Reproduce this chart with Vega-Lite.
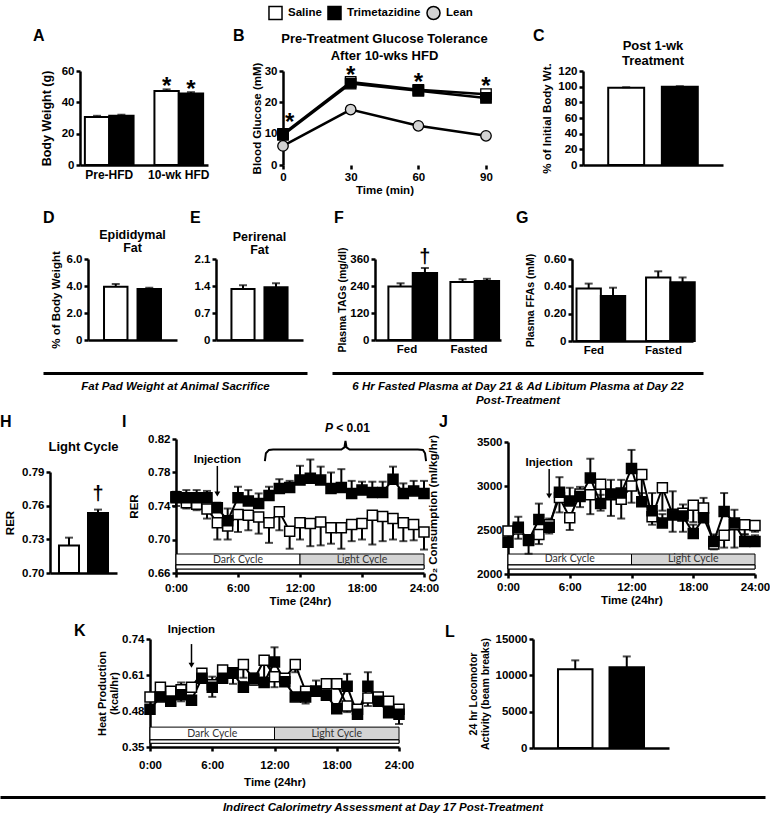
{
"$schema":"https://vega.github.io/schema/vega-lite/v6.json",
"padding":{"left":0,"top":5,"right":0,"bottom":0},
"autosize":{"type":"pad"},
"background":"white",
"data":{"values":[]},
"spacing":0,"bounds":"full",
"resolve":{"scale":{"fill":"independent","shape":"independent","strokeWidth":"independent"}},
"config":{
 "font":"Liberation Sans",
 "view":{"stroke":null},
 "axis":{"domainColor":"black","domainWidth":2.5,"tickColor":"black","tickWidth":2.5,"tickSize":4,"labelFontWeight":"bold","labelFontSize":11.5,"labelColor":"black","labelOverlap":false,"titleFontWeight":"bold","titleFontSize":11.5,"titleColor":"black","grid":false,"labelPadding":2},
 "title":{"fontWeight":"bold","fontSize":13,"color":"black","frame":"group","anchor":"middle"},
 "text":{"color":"black"}
},
"vconcat":[
{"spacing":0,"bounds":"flush","resolve":{"scale":{"fill":"independent","shape":"independent","strokeWidth":"independent"}},
 "hconcat":[
{"width":80,"height":139,"mark":"point","title":{"text":"A","anchor":"start","dx":33,"offset":14,"fontSize":16,"baseline":"alphabetic"}},
{"width":128,"height":94,
 "data":{"values":[
  {"phase":"Pre-HFD","group":"Saline","mean":30.6,"upper":31.4,"sig":""},
  {"phase":"Pre-HFD","group":"Trimetazidine","mean":31.4,"upper":32.1,"sig":""},
  {"phase":"10-wk HFD","group":"Saline","mean":47.2,"upper":48.3,"sig":"*"},
  {"phase":"10-wk HFD","group":"Trimetazidine","mean":45.6,"upper":46.5,"sig":"*"}]},
 "encoding":{
  "x":{"field":"phase","type":"nominal","sort":["Pre-HFD","10-wk HFD"],"scale":{"paddingInner":0.3,"paddingOuter":0.07},"axis":{"title":null,"labelAngle":0,"ticks":false,"labelPadding":4,"labelFontSize":12}},
  "xOffset":{"field":"group","type":"nominal","sort":["Saline","Trimetazidine"]}},
 "layer":[
  {"mark":{"type":"bar","stroke":"black","strokeWidth":2},"encoding":{"y":{"field":"mean","type":"quantitative","scale":{"domain":[0,60],"zero":false,"nice":false,"range":[94,0]},"axis":{"values":[0,20,40,60],"tickCount":10,"labelOverlap":false,"title":"Body Weight (g)","titlePadding":8,"titleFontSize":12.5}},"y2":{"datum":0},"fill":{"field":"group","type":"nominal","scale":{"domain":["Saline","Trimetazidine"],"range":["white","black"]},"legend":null}}},
  {"mark":{"type":"rule","color":"black","strokeWidth":2},"encoding":{"y":{"field":"mean","type":"quantitative"},"y2":{"field":"upper"}}},
  {"mark":{"type":"tick","color":"black","thickness":2,"size":8},"encoding":{"y":{"field":"upper","type":"quantitative"}}},
  {"mark":{"type":"text","fontSize":24,"fontWeight":"bold","baseline":"alphabetic","dy":5},"encoding":{"y":{"field":"upper","type":"quantitative"},"text":{"field":"sig"}}}
 ]},
{"width":75,"height":1,"mark":"point","title":{"text":"B","anchor":"start","dx":25,"offset":14,"fontSize":16,"baseline":"alphabetic"}},
{"width":203,"height":94,
 "title":{"text":["Pre-Treatment Glucose Tolerance","After 10-wks HFD"],"fontSize":13,"lineHeight":17,"offset":-11,"baseline":"alphabetic"},
 "layer":[
  {"data":{"values":[
    {"group":"Lean","time":0,"mean":6.1,"upper":6.1},{"group":"Lean","time":30,"mean":17.7,"upper":17.7},{"group":"Lean","time":60,"mean":12.5,"upper":12.5},{"group":"Lean","time":90,"mean":9.3,"upper":9.3},
    {"group":"Saline","time":0,"mean":9.9,"upper":10.5},{"group":"Saline","time":30,"mean":26.5,"upper":27.6},{"group":"Saline","time":60,"mean":24.0,"upper":25.0},{"group":"Saline","time":90,"mean":22.6,"upper":23.4},
    {"group":"Trimetazidine","time":0,"mean":9.6,"upper":10.3},{"group":"Trimetazidine","time":30,"mean":26.0,"upper":27.2},{"group":"Trimetazidine","time":60,"mean":23.7,"upper":24.8},{"group":"Trimetazidine","time":90,"mean":21.4,"upper":22.3}]},
   "layer":[
    {"mark":{"type":"line","color":"black"},"encoding":{
      "x":{"field":"time","type":"quantitative","scale":{"domain":[0,90],"nice":false},"axis":{"values":[0,30,60,90],"tickCount":10,"title":"Time (min)","domain":false,"labelFlush":false,"labelOverlap":false,"titlePadding":2}},
      "y":{"field":"mean","type":"quantitative","scale":{"domain":[0,30],"zero":false,"nice":false,"range":[94,0]},"axis":{"values":[0,10,20,30],"tickCount":10,"labelOverlap":false,"title":"Blood Glucose (mM)","titlePadding":2}},
      "detail":{"field":"group","type":"nominal"},
      "strokeWidth":{"field":"group","type":"nominal","scale":{"domain":["Saline","Trimetazidine","Lean"],"range":[2.5,2.5,1.5]},"legend":null}}},
    {"mark":{"type":"rule","color":"black","strokeWidth":2},"encoding":{"x":{"field":"time","type":"quantitative"},"y":{"field":"mean","type":"quantitative"},"y2":{"field":"upper"}}},
    {"mark":{"type":"tick","orient":"horizontal","color":"black","thickness":2,"size":8},"encoding":{"x":{"field":"time","type":"quantitative"},"y":{"field":"upper","type":"quantitative"}}},
    {"mark":{"type":"point","filled":true,"size":110,"stroke":"black","strokeWidth":1.3,"opacity":1},"encoding":{"x":{"field":"time","type":"quantitative"},"y":{"field":"mean","type":"quantitative"},"shape":{"field":"group","type":"nominal","scale":{"domain":["Saline","Trimetazidine","Lean"],"range":["square","square","circle"]},"legend":null},"fill":{"field":"group","type":"nominal","scale":{"domain":["Saline","Trimetazidine","Lean"],"range":["white","black","#d3d3d3"]},"legend":null}}}
   ]},
  {"data":{"values":[{"time":3,"pos":15.2,"sig":"*"},{"time":30,"pos":30.3,"sig":"*"},{"time":60,"pos":28.0,"sig":"*"},{"time":90,"pos":26.8,"sig":"*"}]},
   "mark":{"type":"text","fontSize":24,"fontWeight":"bold","baseline":"alphabetic","dy":13},
   "encoding":{"x":{"field":"time","type":"quantitative"},"y":{"field":"pos","type":"quantitative"},"text":{"field":"sig"}}}
 ]},
{"width":97,"height":1,"mark":"point","title":{"text":"C","anchor":"start","dx":47,"offset":14,"fontSize":16,"baseline":"alphabetic"}},
{"width":140,"height":94,
 "title":{"text":["Post 1-wk","Treatment"],"fontSize":13,"lineHeight":15,"offset":-15,"baseline":"alphabetic"},
 "data":{"values":[{"group":"Saline","mean":98.5,"upper":99.3},{"group":"Trimetazidine","mean":100.0,"upper":100.6}]},
 "encoding":{"x":{"field":"group","type":"nominal","sort":["Saline","Trimetazidine"],"scale":{"paddingInner":0.33,"paddingOuter":0.47},"axis":{"labels":false,"ticks":false,"title":null}}},
 "layer":[
  {"mark":{"type":"bar","stroke":"black","strokeWidth":2},"encoding":{"y":{"field":"mean","type":"quantitative","scale":{"domain":[0,120],"zero":false,"nice":false,"range":[94,0]},"axis":{"values":[0,20,40,60,80,100,120],"tickCount":10,"labelOverlap":false,"title":"% of Initial Body Wt.","titlePadding":5}},"y2":{"datum":0},"fill":{"field":"group","type":"nominal","scale":{"domain":["Saline","Trimetazidine"],"range":["white","black"]},"legend":null}}},
  {"mark":{"type":"rule","color":"black","strokeWidth":2},"encoding":{"y":{"field":"mean","type":"quantitative"},"y2":{"field":"upper"}}},
  {"mark":{"type":"tick","color":"black","thickness":2,"size":8},"encoding":{"y":{"field":"upper","type":"quantitative"}}}
 ]},
{"width":1,"height":1,"data":{"values":[{"group":"Saline"},{"group":"Trimetazidine"},{"group":"Lean"}]},"mark":{"type":"point","filled":true,"opacity":0,"stroke":"black","strokeWidth":1.5},"encoding":{
  "fill":{"field":"group","type":"nominal","scale":{"domain":["Saline","Trimetazidine","Lean"],"range":["white","black","#d3d3d3"]},"legend":{"orient":"none","legendX":-455,"legendY":-66,"direction":"horizontal","title":null,"symbolSize":170,"symbolStrokeColor":"black","symbolFillColor":"white","symbolStrokeWidth":1.5,"symbolOpacity":1,"labelFontSize":11.5,"labelFontWeight":"bold","labelColor":"black","columnPadding":2,"labelOffset":5}},
  "shape":{"field":"group","type":"nominal","scale":{"domain":["Saline","Trimetazidine","Lean"],"range":["square","square","circle"]},"legend":{"orient":"none","legendX":-455,"legendY":-66,"direction":"horizontal","title":null,"symbolSize":170,"symbolStrokeColor":"black","symbolFillColor":"white","symbolStrokeWidth":1.5,"symbolOpacity":1,"labelFontSize":11.5,"labelFontWeight":"bold","labelColor":"black","columnPadding":2,"labelOffset":5}}}}
 ]},
{"spacing":0,"bounds":"flush","resolve":{"scale":{"fill":"independent","shape":"independent","strokeWidth":"independent"}},
 "hconcat":[
{"width":88,"height":110,"mark":"point","title":{"text":"D","anchor":"start","dx":43,"offset":20,"fontSize":16,"baseline":"alphabetic"}},
{"width":89,"height":81,
 "title":{"text":["Epididymal","Fat"],"fontSize":12.5,"lineHeight":13,"offset":-13.5,"baseline":"alphabetic"},
 "data":{"values":[{"group":"Saline","mean":3.95,"upper":4.15},{"group":"Trimetazidine","mean":3.78,"upper":3.87}]},
 "encoding":{"x":{"field":"group","type":"nominal","sort":["Saline","Trimetazidine"],"scale":{"paddingInner":0.3,"paddingOuter":0.478},"axis":{"labels":false,"ticks":false,"title":null}}},
 "layer":[
  {"mark":{"type":"bar","stroke":"black","strokeWidth":2},"encoding":{"y":{"field":"mean","type":"quantitative","scale":{"domain":[0,6],"zero":false,"nice":false,"range":[81,0]},"axis":{"values":[0,2,4,6],"tickCount":10,"labelOverlap":false,"labelExpr":"datum.value == 0 ? '0' : format(datum.value, '.1f')","title":"% of Body Weight","titlePadding":5}},"y2":{"datum":0},"fill":{"field":"group","type":"nominal","scale":{"domain":["Saline","Trimetazidine"],"range":["white","black"]},"legend":null}}},
  {"mark":{"type":"rule","color":"black","strokeWidth":2},"encoding":{"y":{"field":"mean","type":"quantitative"},"y2":{"field":"upper"}}},
  {"mark":{"type":"tick","color":"black","thickness":2,"size":8},"encoding":{"y":{"field":"upper","type":"quantitative"}}}
 ]},
{"width":39,"height":1,"mark":"point","title":{"text":"E","anchor":"start","dx":13,"offset":20,"fontSize":16,"baseline":"alphabetic"}},
{"width":87,"height":81,
 "title":{"text":["Perirenal","Fat"],"fontSize":12.5,"lineHeight":13,"offset":-13.5,"baseline":"alphabetic"},
 "data":{"values":[{"group":"Saline","mean":1.32,"upper":1.42},{"group":"Trimetazidine","mean":1.37,"upper":1.47}]},
 "encoding":{"x":{"field":"group","type":"nominal","sort":["Saline","Trimetazidine"],"scale":{"paddingInner":0.3,"paddingOuter":0.468},"axis":{"labels":false,"ticks":false,"title":null}}},
 "layer":[
  {"mark":{"type":"bar","stroke":"black","strokeWidth":2},"encoding":{"y":{"field":"mean","type":"quantitative","scale":{"domain":[0,2.1],"zero":false,"nice":false,"range":[81,0]},"axis":{"values":[0,0.7,1.4,2.1],"tickCount":10,"labelOverlap":false,"labelExpr":"datum.value == 0 ? '0' : format(datum.value, '.1f')","title":null}},"y2":{"datum":0},"fill":{"field":"group","type":"nominal","scale":{"domain":["Saline","Trimetazidine"],"range":["white","black"]},"legend":null}}},
  {"mark":{"type":"rule","color":"black","strokeWidth":2},"encoding":{"y":{"field":"mean","type":"quantitative"},"y2":{"field":"upper"}}},
  {"mark":{"type":"tick","color":"black","thickness":2,"size":8},"encoding":{"y":{"field":"upper","type":"quantitative"}}}
 ]},
{"width":72,"height":1,"mark":"point","title":{"text":"F","anchor":"start","dx":31,"offset":20,"fontSize":16,"baseline":"alphabetic"}},
{"width":126,"height":81,
 "data":{"values":[
  {"state":"Fed","group":"Saline","mean":238,"upper":252,"sig":""},
  {"state":"Fed","group":"Trimetazidine","mean":298,"upper":320,"sig":"†"},
  {"state":"Fasted","group":"Saline","mean":258,"upper":270,"sig":""},
  {"state":"Fasted","group":"Trimetazidine","mean":262,"upper":272,"sig":""}]},
 "encoding":{
  "x":{"field":"state","type":"nominal","sort":["Fed","Fasted"],"scale":{"paddingInner":0.4,"paddingOuter":0.216},"axis":{"title":null,"labelAngle":0,"ticks":false,"labelPadding":3}},
  "xOffset":{"field":"group","type":"nominal","sort":["Saline","Trimetazidine"]}},
 "layer":[
  {"mark":{"type":"bar","stroke":"black","strokeWidth":2},"encoding":{"y":{"field":"mean","type":"quantitative","scale":{"domain":[0,360],"zero":false,"nice":false,"range":[81,0]},"axis":{"values":[0,120,240,360],"tickCount":10,"labelOverlap":false,"title":"Plasma TAGs (mg/dl)","titleFontSize":10.5,"titlePadding":2}},"y2":{"datum":0},"fill":{"field":"group","type":"nominal","scale":{"domain":["Saline","Trimetazidine"],"range":["white","black"]},"legend":null}}},
  {"mark":{"type":"rule","color":"black","strokeWidth":2},"encoding":{"y":{"field":"mean","type":"quantitative"},"y2":{"field":"upper"}}},
  {"mark":{"type":"tick","color":"black","thickness":2,"size":8},"encoding":{"y":{"field":"upper","type":"quantitative"}}},
  {"mark":{"type":"text","fontSize":20,"fontWeight":"bold","baseline":"bottom","dy":-1},"encoding":{"y":{"field":"upper","type":"quantitative"},"text":{"field":"sig"}}}
 ]},
{"width":71,"height":1,"mark":"point","title":{"text":"G","anchor":"start","dx":15,"offset":20,"fontSize":16,"baseline":"alphabetic"}},
{"width":121,"height":82,
 "data":{"values":[
  {"state":"Fed","group":"Saline","mean":0.385,"upper":0.42},
  {"state":"Fed","group":"Trimetazidine","mean":0.33,"upper":0.39},
  {"state":"Fasted","group":"Saline","mean":0.465,"upper":0.51},
  {"state":"Fasted","group":"Trimetazidine","mean":0.43,"upper":0.465}]},
 "encoding":{
  "x":{"field":"state","type":"nominal","sort":["Fed","Fasted"],"scale":{"paddingInner":0.5,"paddingOuter":0.12,"align":0.27},"axis":{"title":null,"labelAngle":0,"ticks":false,"labelPadding":3}},
  "xOffset":{"field":"group","type":"nominal","sort":["Saline","Trimetazidine"]}},
 "layer":[
  {"mark":{"type":"bar","stroke":"black","strokeWidth":2},"encoding":{"y":{"field":"mean","type":"quantitative","scale":{"domain":[0,0.6],"zero":false,"nice":false,"range":[82,0]},"axis":{"values":[0,0.2,0.4,0.6],"tickCount":10,"labelOverlap":false,"labelExpr":"datum.value == 0 ? '0' : format(datum.value, '.2f')","title":"Plasma FFAs (mM)","titleFontSize":10.5,"titlePadding":8}},"y2":{"datum":0},"fill":{"field":"group","type":"nominal","scale":{"domain":["Saline","Trimetazidine"],"range":["white","black"]},"legend":null}}},
  {"mark":{"type":"rule","color":"black","strokeWidth":2},"encoding":{"y":{"field":"mean","type":"quantitative"},"y2":{"field":"upper"}}},
  {"mark":{"type":"tick","color":"black","thickness":2,"size":8},"encoding":{"y":{"field":"upper","type":"quantitative"}}}
 ]}
 ]},
{"spacing":0,"bounds":"flush",
 "hconcat":[
{"width":43,"height":42,"mark":"point"},
{"width":264,"height":1,"data":{"values":[{"v":0}]},"mark":{"type":"point","opacity":0},"encoding":{"x":{"field":"v","type":"quantitative","axis":{"title":"Fat Pad Weight at Animal Sacrifice","ticks":false,"labels":false,"domainWidth":3,"titleFontStyle":"italic","titleFontSize":11.5,"titlePadding":7.5}}}},
{"width":25,"height":1,"mark":"point"},
{"width":371,"height":1,"data":{"values":[{"v":0}]},"mark":{"type":"point","opacity":0},"encoding":{"x":{"field":"v","type":"quantitative","axis":{"title":["6 Hr Fasted Plasma at Day 21 & Ad Libitum Plasma at Day 22","Post-Treatment"],"ticks":false,"labels":false,"domainWidth":3,"titleFontStyle":"italic","titleFontSize":11.5,"titleLineHeight":14,"titlePadding":7.5}}}}
 ]},
{"spacing":0,"bounds":"flush","resolve":{"scale":{"fill":"independent","shape":"independent","strokeWidth":"independent"}},
 "hconcat":[
{"width":50,"height":184,"mark":"point","title":{"text":"H","anchor":"start","dx":0,"offset":-4,"fontSize":16,"baseline":"alphabetic"}},
{"width":67,"height":134,
 "title":{"text":"Light Cycle","fontSize":13,"offset":-25,"baseline":"alphabetic"},
 "data":{"values":[{"group":"Saline","mean":0.7245,"upper":0.7315,"sig":""},{"group":"Trimetazidine","mean":0.7535,"upper":0.7565,"sig":"†"}]},
 "encoding":{"x":{"field":"group","type":"nominal","sort":["Saline","Trimetazidine"],"scale":{"paddingInner":0.31,"paddingOuter":0.31},"axis":{"labels":false,"ticks":false,"title":null}}},
 "layer":[
  {"mark":{"type":"bar","stroke":"black","strokeWidth":2},"encoding":{"y":{"field":"mean","type":"quantitative","scale":{"domain":[0.7,0.79],"zero":false,"nice":false,"range":[134,33]},"axis":{"values":[0.7,0.73,0.76,0.79],"tickCount":10,"labelOverlap":false,"format":".2f","title":"RER","titlePadding":6}},"y2":{"datum":0.7},"fill":{"field":"group","type":"nominal","scale":{"domain":["Saline","Trimetazidine"],"range":["white","black"]},"legend":null}}},
  {"mark":{"type":"rule","color":"black","strokeWidth":2},"encoding":{"y":{"field":"mean","type":"quantitative"},"y2":{"field":"upper"}}},
  {"mark":{"type":"tick","color":"black","thickness":2,"size":8},"encoding":{"y":{"field":"upper","type":"quantitative"}}},
  {"mark":{"type":"text","fontSize":20,"fontWeight":"bold","baseline":"bottom","dy":-6},"encoding":{"y":{"field":"upper","type":"quantitative"},"text":{"field":"sig"}}}
 ]},
{"width":59,"height":1,"mark":"point","title":{"text":"I","anchor":"start","dx":5,"offset":-4,"fontSize":16,"baseline":"alphabetic"}},
{"width":248,"height":134,
 "layer":[
  {"data":{"values":[{"cycle":"Dark Cycle","start":0,"end":12,"mid":6},{"cycle":"Light Cycle","start":12,"end":24,"mid":18}]},
   "layer":[
    {"mark":{"type":"rect","stroke":"black","strokeWidth":1},"encoding":{
      "x":{"field":"start","type":"quantitative","scale":{"domain":[0,24],"nice":false},"axis":{"values":[0,6,12,18,24],"tickCount":10,"labelExpr":"datum.value + ':00'","title":"Time (24hr)","labelFlush":false,"labelOverlap":false,"labelPadding":5,"titlePadding":2}},
      "x2":{"field":"end"},
      "y":{"datum":0.6696,"type":"quantitative","scale":{"domain":[0.66,0.82],"zero":false,"nice":false,"range":[134,0]},"axis":{"values":[0.66,0.7,0.74,0.78,0.82],"tickCount":10,"labelOverlap":false,"format":".2f","title":"RER","titlePadding":8}},
      "y2":{"datum":0.6827},
      "fill":{"field":"cycle","type":"nominal","scale":{"domain":["Dark Cycle","Light Cycle","Saline","Trimetazidine"],"range":["white","#d4d4d4","white","black"]},"legend":null}}},
    {"mark":{"type":"rect","stroke":"black","strokeWidth":1,"fill":"white"},"encoding":{"x":{"datum":0,"type":"quantitative"},"x2":{"datum":24},"y":{"datum":0.6648,"type":"quantitative"},"y2":{"datum":0.6696}}},
    {"mark":{"type":"text","font":"Lato","fontSize":10.5,"color":"#333"},"encoding":{"x":{"field":"mid","type":"quantitative"},"y":{"datum":0.676,"type":"quantitative"},"text":{"field":"cycle"}}}
   ]},
  {"data":{"values":[
    {"group":"Saline","hour":0,"mean":0.751,"bar":0.740},{"group":"Saline","hour":1,"mean":0.744,"bar":0.737},{"group":"Saline","hour":2,"mean":0.742,"bar":0.735},{"group":"Saline","hour":3,"mean":0.7365,"bar":0.725},{"group":"Saline","hour":4,"mean":0.720,"bar":0.700},{"group":"Saline","hour":5,"mean":0.716,"bar":0.700},{"group":"Saline","hour":6,"mean":0.730,"bar":0.709},{"group":"Saline","hour":7,"mean":0.729,"bar":0.711},{"group":"Saline","hour":8,"mean":0.727,"bar":0.707},{"group":"Saline","hour":9,"mean":0.720,"bar":0.696},{"group":"Saline","hour":10,"mean":0.733,"bar":0.711},{"group":"Saline","hour":11,"mean":0.710,"bar":0.689},{"group":"Saline","hour":12,"mean":0.720,"bar":0.700},{"group":"Saline","hour":13,"mean":0.719,"bar":0.692},{"group":"Saline","hour":14,"mean":0.721,"bar":0.693},{"group":"Saline","hour":15,"mean":0.714,"bar":0.695},{"group":"Saline","hour":16,"mean":0.714,"bar":0.689},{"group":"Saline","hour":17,"mean":0.718,"bar":0.698},{"group":"Saline","hour":18,"mean":0.719,"bar":0.700},{"group":"Saline","hour":19,"mean":0.729,"bar":0.694},{"group":"Saline","hour":20,"mean":0.7275,"bar":0.698},{"group":"Saline","hour":21,"mean":0.725,"bar":0.700},{"group":"Saline","hour":22,"mean":0.720,"bar":0.698},{"group":"Saline","hour":23,"mean":0.718,"bar":0.699},{"group":"Saline","hour":24,"mean":0.709,"bar":0.688},
    {"group":"Trimetazidine","hour":0,"mean":0.750,"bar":0.757},{"group":"Trimetazidine","hour":1,"mean":0.750,"bar":0.759},{"group":"Trimetazidine","hour":2,"mean":0.750,"bar":0.759},{"group":"Trimetazidine","hour":3,"mean":0.750,"bar":0.758},{"group":"Trimetazidine","hour":4,"mean":0.738,"bar":0.744},{"group":"Trimetazidine","hour":5,"mean":0.7225,"bar":0.737},{"group":"Trimetazidine","hour":6,"mean":0.750,"bar":0.763},{"group":"Trimetazidine","hour":7,"mean":0.746,"bar":0.759},{"group":"Trimetazidine","hour":8,"mean":0.743,"bar":0.755},{"group":"Trimetazidine","hour":9,"mean":0.7525,"bar":0.763},{"group":"Trimetazidine","hour":10,"mean":0.761,"bar":0.772},{"group":"Trimetazidine","hour":11,"mean":0.762,"bar":0.770},{"group":"Trimetazidine","hour":12,"mean":0.771,"bar":0.788},{"group":"Trimetazidine","hour":13,"mean":0.773,"bar":0.7955},{"group":"Trimetazidine","hour":14,"mean":0.771,"bar":0.787},{"group":"Trimetazidine","hour":15,"mean":0.761,"bar":0.780},{"group":"Trimetazidine","hour":16,"mean":0.762,"bar":0.784},{"group":"Trimetazidine","hour":17,"mean":0.755,"bar":0.770},{"group":"Trimetazidine","hour":18,"mean":0.759,"bar":0.769},{"group":"Trimetazidine","hour":19,"mean":0.756,"bar":0.769},{"group":"Trimetazidine","hour":20,"mean":0.756,"bar":0.769},{"group":"Trimetazidine","hour":21,"mean":0.772,"bar":0.787},{"group":"Trimetazidine","hour":22,"mean":0.755,"bar":0.767},{"group":"Trimetazidine","hour":23,"mean":0.758,"bar":0.770},{"group":"Trimetazidine","hour":24,"mean":0.755,"bar":0.770}]},
   "layer":[
    {"mark":{"type":"line","color":"black","strokeWidth":2},"encoding":{"x":{"field":"hour","type":"quantitative"},"y":{"field":"mean","type":"quantitative"},"detail":{"field":"group","type":"nominal"}}},
    {"mark":{"type":"rule","color":"black","strokeWidth":2},"encoding":{"x":{"field":"hour","type":"quantitative"},"y":{"field":"mean","type":"quantitative"},"y2":{"field":"bar"}}},
    {"mark":{"type":"tick","orient":"horizontal","color":"black","thickness":2,"size":8},"encoding":{"x":{"field":"hour","type":"quantitative"},"y":{"field":"bar","type":"quantitative"}}},
    {"mark":{"type":"point","shape":"square","size":100,"filled":true,"stroke":"black","strokeWidth":1.5,"opacity":1},"encoding":{"x":{"field":"hour","type":"quantitative"},"y":{"field":"mean","type":"quantitative"},"fill":{"field":"group","type":"nominal","scale":{"domain":["Dark Cycle","Light Cycle","Saline","Trimetazidine"],"range":["white","#d4d4d4","white","black"]},"legend":null}}}
   ]},
  {"data":{"values":[{"hour":4,"label":"Injection"}]},
   "layer":[
    {"mark":{"type":"text","fontSize":11.5,"fontWeight":"bold","baseline":"alphabetic"},"encoding":{"x":{"field":"hour","type":"quantitative"},"y":{"datum":0.7913,"type":"quantitative"},"text":{"field":"label"}}},
    {"mark":{"type":"rule","color":"black","strokeWidth":1.5},"encoding":{"x":{"field":"hour","type":"quantitative"},"y":{"datum":0.7878,"type":"quantitative"},"y2":{"datum":0.755}}},
    {"mark":{"type":"point","shape":"triangle-down","filled":true,"color":"black","size":35,"opacity":1},"encoding":{"x":{"field":"hour","type":"quantitative"},"y":{"datum":0.7543,"type":"quantitative"}}}
   ]},
  {"data":{"values":[{"hour":8.6,"y":0.7937},{"hour":8.7,"y":0.803},{"hour":9.0,"y":0.807},{"hour":9.4,"y":0.8075},{"hour":16.0,"y":0.8075},{"hour":16.3,"y":0.810},{"hour":16.4,"y":0.8176},{"hour":16.5,"y":0.810},{"hour":16.8,"y":0.8075},{"hour":23.4,"y":0.8075},{"hour":23.9,"y":0.807},{"hour":24.1,"y":0.803},{"hour":24.2,"y":0.7937}]},
   "mark":{"type":"line","color":"black","strokeWidth":2},"encoding":{"x":{"field":"hour","type":"quantitative"},"y":{"field":"y","type":"quantitative"}}},
  {"data":{"values":[{"hour":15.2,"t":"P"}]},"mark":{"type":"text","fontSize":12,"fontWeight":"bold","fontStyle":"italic","align":"right","baseline":"alphabetic"},"encoding":{"x":{"field":"hour","type":"quantitative"},"y":{"datum":0.8284,"type":"quantitative"},"text":{"field":"t"}}},
  {"data":{"values":[{"hour":15.5,"t":"< 0.01"}]},"mark":{"type":"text","fontSize":12,"fontWeight":"bold","align":"left","baseline":"alphabetic"},"encoding":{"x":{"field":"hour","type":"quantitative"},"y":{"datum":0.8284,"type":"quantitative"},"text":{"field":"t"}}}
 ]},
{"width":84,"height":1,"mark":"point","title":{"text":"J","anchor":"start","dx":15,"offset":-4,"fontSize":16,"baseline":"alphabetic"}},
{"width":247,"height":135,
 "layer":[
  {"data":{"values":[{"cycle":"Dark Cycle","start":0,"end":12,"mid":6},{"cycle":"Light Cycle","start":12,"end":24,"mid":18}]},
   "layer":[
    {"mark":{"type":"rect","stroke":"black","strokeWidth":1},"encoding":{
      "x":{"field":"start","type":"quantitative","scale":{"domain":[0,24],"nice":false},"axis":{"values":[0,6,12,18,24],"tickCount":10,"labelExpr":"datum.value + ':00'","title":"Time (24hr)","labelFlush":false,"labelOverlap":false,"labelPadding":3,"titlePadding":2}},
      "x2":{"field":"end"},
      "y":{"datum":2102,"type":"quantitative","scale":{"domain":[2000,3500],"zero":false,"nice":false,"range":[135,3]},"axis":{"values":[2000,2500,3000,3500],"tickCount":10,"labelOverlap":false,"format":"d","title":"O₂ Consumption (ml/kg/hr)","titlePadding":38}},
      "y2":{"datum":2227},
      "fill":{"field":"cycle","type":"nominal","scale":{"domain":["Dark Cycle","Light Cycle","Saline","Trimetazidine"],"range":["white","#d4d4d4","white","black"]},"legend":null}}},
    {"mark":{"type":"rect","stroke":"black","strokeWidth":1,"fill":"white"},"encoding":{"x":{"datum":0,"type":"quantitative"},"x2":{"datum":24},"y":{"datum":2057,"type":"quantitative"},"y2":{"datum":2102}}},
    {"mark":{"type":"text","font":"Lato","fontSize":10.5,"color":"#333"},"encoding":{"x":{"field":"mid","type":"quantitative"},"y":{"datum":2165,"type":"quantitative"},"text":{"field":"cycle"}}}
   ]},
  {"data":{"values":[
    {"group":"Saline","hour":0,"mean":2490,"bar":2440},{"group":"Saline","hour":1,"mean":2510,"bar":2400},{"group":"Saline","hour":2,"mean":2390,"bar":2230},{"group":"Saline","hour":3,"mean":2450,"bar":2340},{"group":"Saline","hour":4,"mean":2560,"bar":2460},{"group":"Saline","hour":5,"mean":2870,"bar":2700},{"group":"Saline","hour":6,"mean":2640,"bar":2500},{"group":"Saline","hour":7,"mean":2910,"bar":2760},{"group":"Saline","hour":8,"mean":2900,"bar":2680},{"group":"Saline","hour":9,"mean":3020,"bar":2720},{"group":"Saline","hour":10,"mean":2900,"bar":2660},{"group":"Saline","hour":11,"mean":2850,"bar":2630},{"group":"Saline","hour":12,"mean":3000,"bar":2810},{"group":"Saline","hour":13,"mean":3130,"bar":2800},{"group":"Saline","hour":14,"mean":2650,"bar":2560},{"group":"Saline","hour":15,"mean":2980,"bar":2720},{"group":"Saline","hour":16,"mean":2680,"bar":2480},{"group":"Saline","hour":17,"mean":2690,"bar":2480},{"group":"Saline","hour":18,"mean":2780,"bar":2590},{"group":"Saline","hour":19,"mean":2750,"bar":2600},{"group":"Saline","hour":20,"mean":2340,"bar":2280},{"group":"Saline","hour":21,"mean":2440,"bar":2300},{"group":"Saline","hour":22,"mean":2560,"bar":2300},{"group":"Saline","hour":23,"mean":2560,"bar":2450},{"group":"Saline","hour":24,"mean":2550,"bar":2480},
    {"group":"Trimetazidine","hour":0,"mean":2360,"bar":2400},{"group":"Trimetazidine","hour":1,"mean":2530,"bar":2650},{"group":"Trimetazidine","hour":2,"mean":2380,"bar":2420},{"group":"Trimetazidine","hour":3,"mean":2620,"bar":2800},{"group":"Trimetazidine","hour":4,"mean":2530,"bar":2630},{"group":"Trimetazidine","hour":5,"mean":2930,"bar":3100},{"group":"Trimetazidine","hour":6,"mean":2830,"bar":2980},{"group":"Trimetazidine","hour":7,"mean":2880,"bar":2990},{"group":"Trimetazidine","hour":8,"mean":3090,"bar":3310},{"group":"Trimetazidine","hour":9,"mean":2800,"bar":2900},{"group":"Trimetazidine","hour":10,"mean":2910,"bar":3070},{"group":"Trimetazidine","hour":11,"mean":2920,"bar":3070},{"group":"Trimetazidine","hour":12,"mean":3200,"bar":3410},{"group":"Trimetazidine","hour":13,"mean":2820,"bar":2920},{"group":"Trimetazidine","hour":14,"mean":2720,"bar":2920},{"group":"Trimetazidine","hour":15,"mean":2580,"bar":2680},{"group":"Trimetazidine","hour":16,"mean":2670,"bar":2940},{"group":"Trimetazidine","hour":17,"mean":2660,"bar":2790},{"group":"Trimetazidine","hour":18,"mean":2460,"bar":2560},{"group":"Trimetazidine","hour":19,"mean":2640,"bar":2865},{"group":"Trimetazidine","hour":20,"mean":2370,"bar":2450},{"group":"Trimetazidine","hour":21,"mean":2710,"bar":2920},{"group":"Trimetazidine","hour":22,"mean":2580,"bar":2730},{"group":"Trimetazidine","hour":23,"mean":2370,"bar":2450},{"group":"Trimetazidine","hour":24,"mean":2370,"bar":2440}]},
   "layer":[
    {"mark":{"type":"line","color":"black","strokeWidth":2},"encoding":{"x":{"field":"hour","type":"quantitative"},"y":{"field":"mean","type":"quantitative"},"detail":{"field":"group","type":"nominal"}}},
    {"mark":{"type":"rule","color":"black","strokeWidth":2},"encoding":{"x":{"field":"hour","type":"quantitative"},"y":{"field":"mean","type":"quantitative"},"y2":{"field":"bar"}}},
    {"mark":{"type":"tick","orient":"horizontal","color":"black","thickness":2,"size":8},"encoding":{"x":{"field":"hour","type":"quantitative"},"y":{"field":"bar","type":"quantitative"}}},
    {"mark":{"type":"point","shape":"square","size":100,"filled":true,"stroke":"black","strokeWidth":1.5,"opacity":1},"encoding":{"x":{"field":"hour","type":"quantitative"},"y":{"field":"mean","type":"quantitative"},"fill":{"field":"group","type":"nominal","scale":{"domain":["Dark Cycle","Light Cycle","Saline","Trimetazidine"],"range":["white","#d4d4d4","white","black"]},"legend":null}}}
   ]},
  {"data":{"values":[{"hour":4,"label":"Injection"}]},
   "layer":[
    {"mark":{"type":"text","fontSize":11.5,"fontWeight":"bold","baseline":"alphabetic"},"encoding":{"x":{"field":"hour","type":"quantitative"},"y":{"datum":3227,"type":"quantitative"},"text":{"field":"label"}}},
    {"mark":{"type":"rule","color":"black","strokeWidth":1.5},"encoding":{"x":{"field":"hour","type":"quantitative"},"y":{"datum":3193,"type":"quantitative"},"y2":{"datum":2890}}},
    {"mark":{"type":"point","shape":"triangle-down","filled":true,"color":"black","size":35,"opacity":1},"encoding":{"x":{"field":"hour","type":"quantitative"},"y":{"datum":2886,"type":"quantitative"}}}
   ]}
 ]}
 ]},
{"spacing":0,"bounds":"flush","resolve":{"scale":{"fill":"independent","shape":"independent","strokeWidth":"independent"}},
 "hconcat":[
{"width":150,"height":154,"mark":"point","title":{"text":"K","anchor":"start","dx":74,"offset":-13,"fontSize":16,"baseline":"alphabetic"}},
{"width":249,"height":108,
 "layer":[
  {"data":{"values":[{"cycle":"Dark Cycle","start":0,"end":12,"mid":6},{"cycle":"Light Cycle","start":12,"end":24,"mid":18}]},
   "layer":[
    {"mark":{"type":"rect","stroke":"black","strokeWidth":1},"encoding":{
      "x":{"field":"start","type":"quantitative","scale":{"domain":[0,24],"nice":false},"axis":{"values":[0,6,12,18,24],"tickCount":10,"labelExpr":"datum.value + ':00'","title":"Time (24hr)","labelFlush":false,"labelOverlap":false,"labelPadding":8,"titlePadding":6}},
      "x2":{"field":"end"},
      "y":{"datum":0.3755,"type":"quantitative","scale":{"domain":[0.35,0.74],"zero":false,"nice":false,"range":[108,0]},"axis":{"values":[0.35,0.48,0.61,0.74],"tickCount":10,"labelOverlap":false,"format":".2f","title":["Heat Production","(kcal/hr)"],"titleFontSize":11,"titleLineHeight":12,"titlePadding":2}},
      "y2":{"datum":0.4218},
      "fill":{"field":"cycle","type":"nominal","scale":{"domain":["Dark Cycle","Light Cycle","Saline","Trimetazidine"],"range":["white","#d4d4d4","white","black"]},"legend":null}}},
    {"mark":{"type":"rect","stroke":"black","strokeWidth":1,"fill":"white"},"encoding":{"x":{"datum":0,"type":"quantitative"},"x2":{"datum":24},"y":{"datum":0.3635,"type":"quantitative"},"y2":{"datum":0.3755}}},
    {"mark":{"type":"text","font":"Lato","fontSize":10.5,"color":"#333"},"encoding":{"x":{"field":"mid","type":"quantitative"},"y":{"datum":0.3985,"type":"quantitative"},"text":{"field":"cycle"}}}
   ]},
  {"data":{"values":[
    {"group":"Saline","hour":0,"mean":0.531,"bar":0.52},{"group":"Saline","hour":1,"mean":0.566,"bar":0.55},{"group":"Saline","hour":2,"mean":0.551,"bar":0.54},{"group":"Saline","hour":3,"mean":0.557,"bar":0.515},{"group":"Saline","hour":4,"mean":0.566,"bar":0.555},{"group":"Saline","hour":5,"mean":0.616,"bar":0.60},{"group":"Saline","hour":6,"mean":0.575,"bar":0.531},{"group":"Saline","hour":7,"mean":0.628,"bar":0.61},{"group":"Saline","hour":8,"mean":0.618,"bar":0.578},{"group":"Saline","hour":9,"mean":0.648,"bar":0.60},{"group":"Saline","hour":10,"mean":0.592,"bar":0.575},{"group":"Saline","hour":11,"mean":0.663,"bar":0.60},{"group":"Saline","hour":12,"mean":0.604,"bar":0.566},{"group":"Saline","hour":13,"mean":0.598,"bar":0.585},{"group":"Saline","hour":14,"mean":0.648,"bar":0.62},{"group":"Saline","hour":15,"mean":0.551,"bar":0.507},{"group":"Saline","hour":16,"mean":0.551,"bar":0.535},{"group":"Saline","hour":17,"mean":0.578,"bar":0.56},{"group":"Saline","hour":18,"mean":0.578,"bar":0.56},{"group":"Saline","hour":19,"mean":0.498,"bar":0.476},{"group":"Saline","hour":20,"mean":0.486,"bar":0.47},{"group":"Saline","hour":21,"mean":0.527,"bar":0.498},{"group":"Saline","hour":22,"mean":0.531,"bar":0.515},{"group":"Saline","hour":23,"mean":0.515,"bar":0.50},{"group":"Saline","hour":24,"mean":0.486,"bar":0.433},
    {"group":"Trimetazidine","hour":0,"mean":0.486,"bar":0.50},{"group":"Trimetazidine","hour":1,"mean":0.531,"bar":0.545},{"group":"Trimetazidine","hour":2,"mean":0.515,"bar":0.53},{"group":"Trimetazidine","hour":3,"mean":0.539,"bar":0.583},{"group":"Trimetazidine","hour":4,"mean":0.519,"bar":0.535},{"group":"Trimetazidine","hour":5,"mean":0.598,"bar":0.61},{"group":"Trimetazidine","hour":6,"mean":0.566,"bar":0.604},{"group":"Trimetazidine","hour":7,"mean":0.598,"bar":0.61},{"group":"Trimetazidine","hour":8,"mean":0.616,"bar":0.63},{"group":"Trimetazidine","hour":9,"mean":0.566,"bar":0.585},{"group":"Trimetazidine","hour":10,"mean":0.598,"bar":0.615},{"group":"Trimetazidine","hour":11,"mean":0.583,"bar":0.60},{"group":"Trimetazidine","hour":12,"mean":0.657,"bar":0.71},{"group":"Trimetazidine","hour":13,"mean":0.586,"bar":0.60},{"group":"Trimetazidine","hour":14,"mean":0.531,"bar":0.545},{"group":"Trimetazidine","hour":15,"mean":0.531,"bar":0.545},{"group":"Trimetazidine","hour":16,"mean":0.551,"bar":0.59},{"group":"Trimetazidine","hour":17,"mean":0.537,"bar":0.55},{"group":"Trimetazidine","hour":18,"mean":0.488,"bar":0.50},{"group":"Trimetazidine","hour":19,"mean":0.569,"bar":0.614},{"group":"Trimetazidine","hour":20,"mean":0.468,"bar":0.48},{"group":"Trimetazidine","hour":21,"mean":0.569,"bar":0.62},{"group":"Trimetazidine","hour":22,"mean":0.515,"bar":0.53},{"group":"Trimetazidine","hour":23,"mean":0.474,"bar":0.49},{"group":"Trimetazidine","hour":24,"mean":0.468,"bar":0.50}]},
   "layer":[
    {"mark":{"type":"line","color":"black","strokeWidth":2},"encoding":{"x":{"field":"hour","type":"quantitative"},"y":{"field":"mean","type":"quantitative"},"detail":{"field":"group","type":"nominal"}}},
    {"mark":{"type":"rule","color":"black","strokeWidth":2},"encoding":{"x":{"field":"hour","type":"quantitative"},"y":{"field":"mean","type":"quantitative"},"y2":{"field":"bar"}}},
    {"mark":{"type":"tick","orient":"horizontal","color":"black","thickness":2,"size":8},"encoding":{"x":{"field":"hour","type":"quantitative"},"y":{"field":"bar","type":"quantitative"}}},
    {"mark":{"type":"point","shape":"square","size":100,"filled":true,"stroke":"black","strokeWidth":1.5,"opacity":1},"encoding":{"x":{"field":"hour","type":"quantitative"},"y":{"field":"mean","type":"quantitative"},"fill":{"field":"group","type":"nominal","scale":{"domain":["Dark Cycle","Light Cycle","Saline","Trimetazidine"],"range":["white","#d4d4d4","white","black"]},"legend":null}}}
   ]},
  {"data":{"values":[{"hour":4,"label":"Injection"}]},
   "layer":[
    {"mark":{"type":"text","fontSize":11.5,"fontWeight":"bold","baseline":"alphabetic"},"encoding":{"x":{"field":"hour","type":"quantitative"},"y":{"datum":0.762,"type":"quantitative"},"text":{"field":"label"}}},
    {"mark":{"type":"rule","color":"black","strokeWidth":1.5},"encoding":{"x":{"field":"hour","type":"quantitative"},"y":{"datum":0.7217,"type":"quantitative"},"y2":{"datum":0.647}}},
    {"mark":{"type":"point","shape":"triangle-down","filled":true,"color":"black","size":35,"opacity":1},"encoding":{"x":{"field":"hour","type":"quantitative"},"y":{"datum":0.645,"type":"quantitative"}}}
   ]}
 ]},
{"width":134,"height":1,"mark":"point","title":{"text":"L","anchor":"start","dx":46,"offset":-14,"fontSize":16,"baseline":"alphabetic"}},
{"width":136,"height":109,
 "data":{"values":[{"group":"Saline","mean":10825,"upper":12060},{"group":"Trimetazidine","mean":11100,"upper":12600}]},
 "encoding":{"x":{"field":"group","type":"nominal","sort":["Saline","Trimetazidine"],"scale":{"paddingInner":0.33,"paddingOuter":0.485},"axis":{"labels":false,"ticks":false,"title":null}}},
 "layer":[
  {"mark":{"type":"bar","stroke":"black","strokeWidth":2},"encoding":{"y":{"field":"mean","type":"quantitative","scale":{"domain":[0,15000],"zero":false,"nice":false,"range":[109,0]},"axis":{"values":[0,5000,10000,15000],"tickCount":10,"labelOverlap":false,"format":"d","title":["24 hr Locomotor","Activity (beam breaks)"],"titleFontSize":10.5,"titleLineHeight":12,"titlePadding":5}},"y2":{"datum":0},"fill":{"field":"group","type":"nominal","scale":{"domain":["Saline","Trimetazidine"],"range":["white","black"]},"legend":null}}},
  {"mark":{"type":"rule","color":"black","strokeWidth":2},"encoding":{"y":{"field":"mean","type":"quantitative"},"y2":{"field":"upper"}}},
  {"mark":{"type":"tick","color":"black","thickness":2,"size":8},"encoding":{"y":{"field":"upper","type":"quantitative"}}}
 ]}
 ]},
{"width":765,"height":1,"data":{"values":[{"v":0}]},"mark":{"type":"point","opacity":0},"encoding":{"x":{"field":"v","type":"quantitative","axis":{"title":"Indirect Calorimetry Assessment at Day 17 Post-Treatment","ticks":false,"labels":false,"domainWidth":3,"titleFontStyle":"italic","titleFontSize":11.5,"titlePadding":4.5}}}}
]
}
